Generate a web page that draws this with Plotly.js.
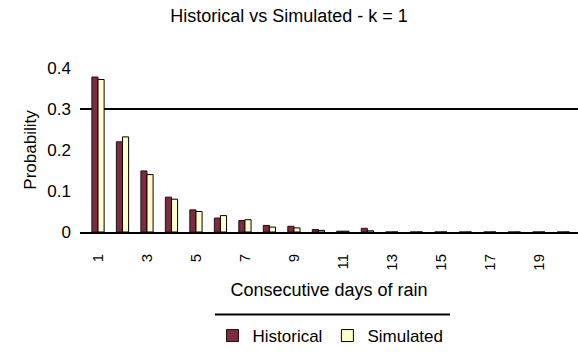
<!DOCTYPE html>
<html><head><meta charset="utf-8">
<script src="https://cdn.plot.ly/plotly-3.0.1.min.js"></script>
<style>html,body{margin:0;padding:0;background:#fff}#chart{width:578px;height:354px}</style>
</head><body><div id="chart"></div>
<script>
var days = [1,2,3,4,5,6,7,8,9,10,11,12,13,14,15,16,17,18,19,20];
var historical = [0.378,0.220,0.149,0.085,0.054,0.034,0.028,0.016,0.014,0.006,0.002,0.009,0,0,0,0,0,0,0,0];
var simulated  = [0.372,0.232,0.140,0.080,0.050,0.040,0.030,0.012,0.010,0.004,0.002,0.003,0,0,0,0,0,0,0,0];
var tickVals = [1,3,5,7,9,11,13,15,17,19];
var refLine = 0.3;

var traces = [
  {type:'bar', name:'Historical', x:days, y:historical,
   marker:{color:'#7b2c3e', line:{color:'#2a0d14', width:1}}},
  {type:'bar', name:'Simulated', x:days, y:simulated,
   marker:{color:'#ffffcc', line:{color:'#000', width:1}}}
];
var layout = {
  width:578, height:354,
  margin:{l:80, r:0, t:68, b:117},
  paper_bgcolor:'#fff', plot_bgcolor:'#fff',
  font:{family:'Liberation Sans, Arial, sans-serif', size:16, color:'#000'},
  title:{text:'Historical vs Simulated - k = 1', x:0.5, xanchor:'center', y:0.955, yanchor:'middle', font:{size:18}},
  barmode:'group', bargap:0.5, bargroupgap:0,
  xaxis:{range:[0.265,20.6], tickvals:tickVals, ticktext:tickVals.map(String), tickangle:-90,
         showgrid:false, zeroline:false, showline:true, linecolor:'#000', linewidth:2,
         ticks:'', tickfont:{size:15}, ticklabelstandoff:14,
         title:{text:'Consecutive days of rain', standoff:14, font:{size:18}}},
  yaxis:{range:[0,0.4], tickvals:[0,0.1,0.2,0.3,0.4], ticktext:['0','0.1','0.2','0.3','0.4'],
         showgrid:false, zeroline:false, showline:false, ticks:'', tickfont:{size:17},
         ticklabelstandoff:8,
         title:{text:'Probability', standoff:6, font:{size:17}}},
  shapes:[
    {type:'line', layer:'below', xref:'paper', x0:0, x1:1, yref:'y', y0:refLine, y1:refLine,
     line:{color:'#000', width:2}},
    {type:'line', layer:'above', xref:'paper', x0:0.271, x1:0.743, yref:'paper', y0:-0.503, y1:-0.503,
     line:{color:'#000', width:2}}
  ],
  legend:{orientation:'h', x:0.503, xanchor:'center', y:-0.635, yanchor:'middle',
          font:{size:17}, bgcolor:'rgba(0,0,0,0)', bordercolor:'rgba(0,0,0,0)', borderwidth:0},
  showlegend:true
};
Plotly.newPlot('chart', traces, layout, {displayModeBar:false, staticPlot:true});
</script></body></html>
